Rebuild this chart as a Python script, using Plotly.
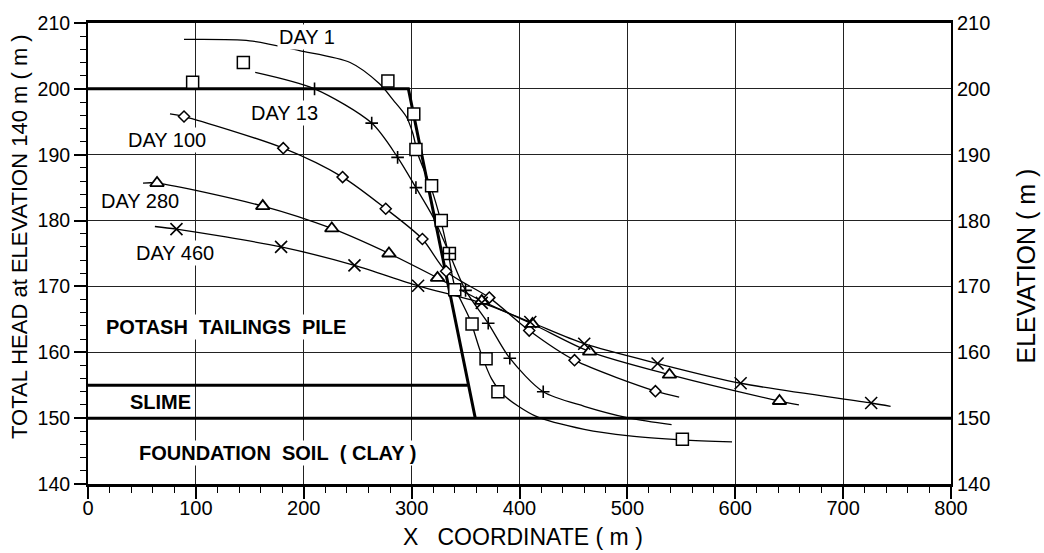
import plotly.graph_objects as go

# ---- Pile geometry (m) ----
pile_x = [0, 297, 359]          # crest, toe of the pile face
pile_y = [200, 200, 150]
slime_x = [0, 352]
slime_y = [155, 155]
clay_x = [0, 800]
clay_y = [150, 150]

# ---- Computed total head curves ----
day1_line_x = [89, 150, 196, 243, 270, 283, 295, 301, 306, 318, 327, 334, 340, 354, 364, 374, 386, 415, 460, 502, 551, 597]
day1_line_y = [207.5, 207.3, 205.8, 204.0, 200.8, 198.3, 195.8, 193.3, 190.0, 185.0, 180.0, 175.0, 170.0, 165.0, 160.0, 156.0, 153.4, 150.3, 148.3, 147.3, 146.7, 146.4]

day13_line_x = [155, 210, 263, 287, 304, 320, 335, 350, 371, 391, 422, 460, 502, 541]
day13_line_y = [202.5, 200.0, 194.8, 189.6, 185.0, 180.5, 175.0, 169.4, 164.4, 159.1, 154.0, 151.8, 150.0, 149.0]

day100_line_x = [76, 89, 181, 236, 276, 310, 332, 372, 409, 451, 526, 548]
day100_line_y = [196.2, 195.8, 191.0, 186.6, 181.8, 177.2, 172.3, 168.3, 163.3, 158.8, 154.1, 153.2]

day280_line_x = [51, 64, 162, 226, 279, 324, 365, 412, 465, 539, 641, 659]
day280_line_y = [185.7, 185.7, 182.2, 178.8, 175.0, 171.3, 167.8, 164.3, 160.1, 156.6, 152.6, 152.0]

day460_line_x = [62, 82, 179, 247, 306, 365, 410, 460, 528, 605, 726, 744]
day460_line_y = [179.1, 178.7, 176.0, 173.2, 170.1, 167.5, 164.6, 161.3, 158.3, 155.3, 152.3, 151.8]

# ---- Measured total head ----
day1_x = [97, 144, 278, 302, 304, 318.5, 327.5, 335, 340, 356, 369, 380, 551]
day1_y = [201.0, 204.0, 201.2, 196.2, 190.8, 185.3, 180.0, 175.0, 169.5, 164.3, 159.0, 154.0, 146.8]

day13_x = [210, 263, 287, 304, 335, 350, 371, 391, 422]
day13_y = [200.0, 194.8, 189.6, 185.0, 175.0, 169.4, 164.4, 159.1, 154.0]

day100_x = [89, 181, 236, 276, 310, 332, 372, 409, 451, 526]
day100_y = [195.8, 191.0, 186.6, 181.8, 177.2, 172.3, 168.3, 163.3, 158.8, 154.1]

day280_x = [64, 162, 226, 279, 324, 365, 412, 465, 539, 641]
day280_y = [185.7, 182.2, 178.8, 175.0, 171.3, 167.8, 164.3, 160.1, 156.6, 152.6]

day460_x = [82, 179, 247, 306, 365, 410, 460, 528, 605, 726]
day460_y = [178.7, 176.0, 173.2, 170.1, 167.5, 164.6, 161.3, 158.3, 155.3, 152.3]

FONT = "Liberation Sans, Arial, Helvetica, sans-serif"

fig = go.Figure()

# stratigraphy outlines
for xs, ys in [(pile_x, pile_y), (slime_x, slime_y), (clay_x, clay_y)]:
    fig.add_trace(go.Scatter(x=xs, y=ys, mode="lines",
                             line=dict(color="black", width=3),
                             hoverinfo="skip", showlegend=False))

curves = [
    (day1_line_x, day1_line_y, day1_x, day1_y, "square", 12, 1.5),
    (day13_line_x, day13_line_y, day13_x, day13_y, "cross-thin", 9, 1.6),
    (day100_line_x, day100_line_y, day100_x, day100_y, "diamond", 8.5, 1.5),
    (day280_line_x, day280_line_y, day280_x, day280_y, "triangle-up", 12, 1.8),
    (day460_line_x, day460_line_y, day460_x, day460_y, "x-thin", 12, 1.6),
]

for lx, ly, mx, my, sym, size, lw in curves:
    fig.add_trace(go.Scatter(x=lx, y=ly, mode="lines",
                             line=dict(color="black", width=1.3, shape="spline", smoothing=0.8),
                             hoverinfo="skip", showlegend=False))
for lx, ly, mx, my, sym, size, lw in curves:
    fig.add_trace(go.Scatter(x=mx, y=my, mode="markers",
                             marker=dict(symbol=sym, size=size, color="white",
                                         line=dict(color="black", width=lw)),
                             showlegend=False))

# right-hand elevation axis
fig.add_trace(go.Scatter(x=[None], y=[None], yaxis="y2", showlegend=False))

labels = [
    ("DAY 1", 203, 207.8, False),
    ("DAY 13", 182, 196.3, False),
    ("DAY 100", 73, 192.3, False),
    ("DAY 280", 48.5, 182.9, False),
    ("DAY 460", 80.5, 175.1, False),
    ("POTASH\u00a0\u00a0TAILINGS\u00a0\u00a0PILE", 128, 163.9, True),
    ("SLIME", 67, 152.5, True),
    ("FOUNDATION\u00a0\u00a0SOIL\u00a0\u00a0( CLAY )", 175.5, 144.7, True),
]
annotations = []
for text, x, y, bold in labels:
    annotations.append(dict(
        x=x, y=y, xref="x", yref="y", text=f"<b>{text}</b>" if bold else text,
        showarrow=False, bgcolor="white", borderpad=1,
        xanchor="center", yanchor="middle",
        font=dict(family=FONT, size=20, color="black"),
    ))

annotations += [
    dict(text="TOTAL HEAD at ELEVATION 140 m ( m )", xref="paper", yref="paper",
         x=-0.0788, y=0.538, textangle=-90, showarrow=False,
         xanchor="center", yanchor="middle",
         font=dict(family=FONT, size=22, color="black")),
    dict(text="ELEVATION ( m )", xref="paper", yref="paper",
         x=1.087, y=0.472, textangle=-90, showarrow=False,
         xanchor="center", yanchor="middle",
         font=dict(family=FONT, size=25, color="black")),
    dict(text="X\u00a0\u00a0\u00a0COORDINATE ( m )", xref="paper", yref="paper",
         x=0.5046, y=-0.115, showarrow=False,
         xanchor="center", yanchor="middle",
         font=dict(family=FONT, size=23, color="black")),
]

fig.update_layout(
    width=1044, height=553,
    margin=dict(l=88, r=93, t=16, b=69),
    paper_bgcolor="white", plot_bgcolor="white",
    font=dict(family=FONT, size=20, color="black"),
    showlegend=False,
    annotations=annotations,
    xaxis=dict(range=[0, 800], tick0=0, dtick=100, ticks="outside", ticklen=12,
               tickwidth=1.5, tickcolor="black", ticklabelstandoff=-8,
               minor=dict(dtick=20, ticks="outside", ticklen=6, tickwidth=1.2,
                          tickcolor="black", showgrid=False),
               showgrid=True, gridcolor="#222", gridwidth=1,
               showline=True, linecolor="black", linewidth=2.5, mirror=True,
               zeroline=False, tickfont=dict(size=20)),
    yaxis=dict(range=[140, 210], tick0=140, dtick=10, ticks="outside", ticklen=12,
               tickwidth=1.5, tickcolor="black",
               minor=dict(dtick=2, ticks="outside", ticklen=6, tickwidth=1.2,
                          tickcolor="black", showgrid=False),
               showgrid=True, gridcolor="#222", gridwidth=1,
               showline=True, linecolor="black", linewidth=2, mirror=True,
               zeroline=False, tickfont=dict(size=19.5)),
    yaxis2=dict(range=[140, 210], tick0=140, dtick=10, overlaying="y", side="right",
                showgrid=False, ticks="", showline=True, linecolor="black",
                linewidth=2, zeroline=False, tickfont=dict(size=20)),
)

fig.write_html("out.html")
